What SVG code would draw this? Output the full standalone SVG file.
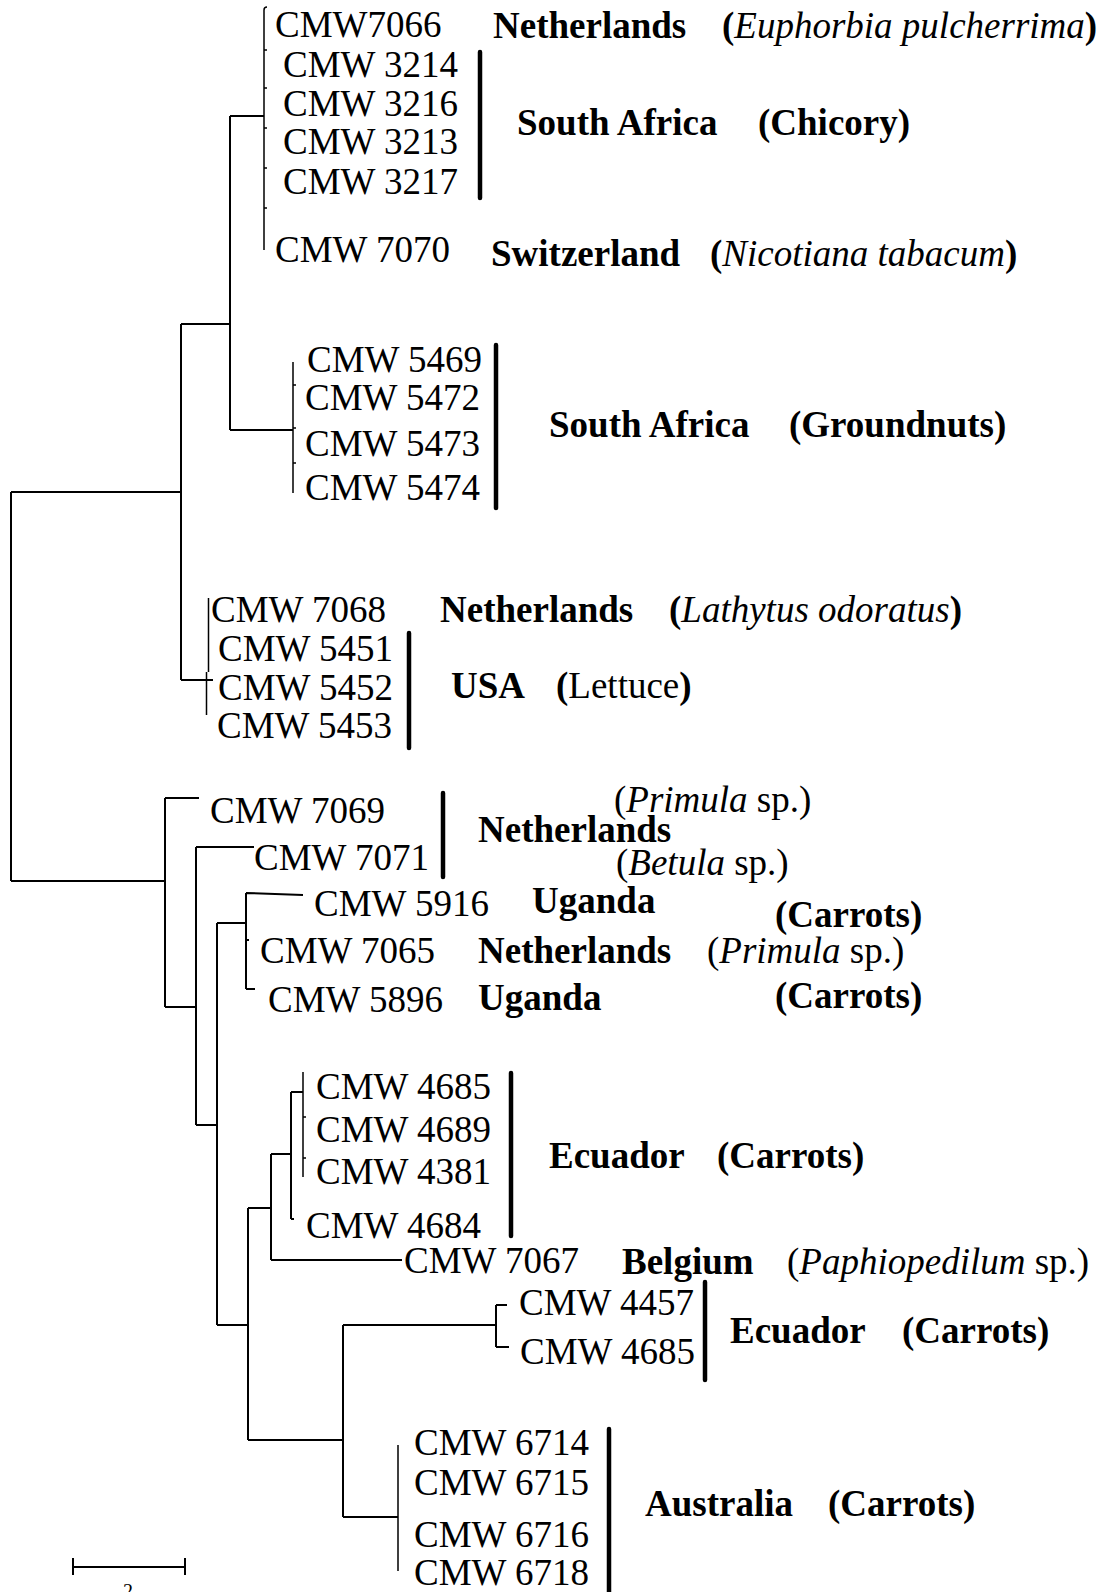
<svg xmlns="http://www.w3.org/2000/svg" width="1104" height="1592" viewBox="0 0 1104 1592">
<style>
text{font-family:"Liberation Serif","Times New Roman",serif;font-size:37px;fill:#000}
.b{font-weight:bold}
.i{font-style:italic}
.tr{stroke:#000;stroke-width:2;fill:none}
.th{stroke:#000;stroke-width:1.5;fill:none}
.br{stroke:#000;stroke-width:4.5;stroke-linecap:round;fill:none}
</style>
<rect width="1104" height="1592" fill="#fff"/>
<g id="connectors">
<path class="tr" d="M11,492V881M11,492H181M11,881H165M181,324V680M181,324H230M181,680H213M230,116V430M230,116H264M230,430H293"/>
<path class="th" d="M264,10V250M264,10q0,-3 3,-3M264,50h3M264,88h3M264,128h3M264,168h3M264,208h3M293,362V493M293,385h3M293,428h3M293,463h3M208.5,598V672M206.5,672V715"/>
<path class="tr" d="M165,798V1007M165,798H199M165,1007H196M196,847V1125M196,847H254M196,1125H217M217,923V1325M217,923H246M246,893V989M246,893L303,895M246,940h3M246,989H255M217,1325H248M248,1208V1440M248,1208H271M271,1154V1260M271,1154H291M271,1260H402M291,1092V1219M291,1219h3M291,1092H303M248,1440H343M343,1325V1517M343,1325H496M496,1305V1347M496,1305H507M496,1347H509M343,1517H398"/>
<path class="th" d="M303,1072V1177M303,1117h3M303,1158h3M398,1445V1571"/>
</g>
<g id="brackets">
<path class="br" d="M480,52V198M496,345V508M409,633V748M443,793V877M511,1073V1236M705,1282V1380M609,1429V1600"/>
</g>
<g id="scale-bar">
<path class="tr" d="M73,1567H185M73,1558V1575M185,1558V1575"/>
<text x="128" y="1598" text-anchor="middle" style="font-size:20px">2</text>
</g>
<g id="leaves">
<g id="leaf-CMW7066"><text x="275" y="37">CMW7066</text></g>
<g id="leaf-CMW3214"><text x="283" y="77">CMW 3214</text></g>
<g id="leaf-CMW3216"><text x="283" y="116">CMW 3216</text></g>
<g id="leaf-CMW3213"><text x="283" y="154">CMW 3213</text></g>
<g id="leaf-CMW3217"><text x="283" y="194">CMW 3217</text></g>
<g id="leaf-CMW7070"><text x="275" y="262">CMW 7070</text></g>
<g id="leaf-CMW5469"><text x="307" y="372">CMW 5469</text></g>
<g id="leaf-CMW5472"><text x="305" y="410">CMW 5472</text></g>
<g id="leaf-CMW5473"><text x="305" y="456">CMW 5473</text></g>
<g id="leaf-CMW5474"><text x="305" y="500">CMW 5474</text></g>
<g id="leaf-CMW7068"><text x="211" y="622">CMW 7068</text></g>
<g id="leaf-CMW5451"><text x="218" y="661">CMW 5451</text></g>
<g id="leaf-CMW5452"><text x="218" y="700">CMW 5452</text></g>
<g id="leaf-CMW5453"><text x="217" y="738">CMW 5453</text></g>
<g id="leaf-CMW7069"><text x="210" y="823">CMW 7069</text></g>
<g id="leaf-CMW7071"><text x="254" y="870">CMW 7071</text></g>
<g id="leaf-CMW5916"><text x="314" y="916">CMW 5916</text></g>
<g id="leaf-CMW7065"><text x="260" y="963">CMW 7065</text></g>
<g id="leaf-CMW5896"><text x="268" y="1012">CMW 5896</text></g>
<g id="leaf-CMW4685a"><text x="316" y="1099">CMW 4685</text></g>
<g id="leaf-CMW4689"><text x="316" y="1142">CMW 4689</text></g>
<g id="leaf-CMW4381"><text x="316" y="1184">CMW 4381</text></g>
<g id="leaf-CMW4684"><text x="306" y="1238">CMW 4684</text></g>
<g id="leaf-CMW7067"><text x="404" y="1273">CMW 7067</text></g>
<g id="leaf-CMW4457"><text x="519" y="1315">CMW 4457</text></g>
<g id="leaf-CMW4685b"><text x="520" y="1364">CMW 4685</text></g>
<g id="leaf-CMW6714"><text x="414" y="1455">CMW 6714</text></g>
<g id="leaf-CMW6715"><text x="414" y="1495">CMW 6715</text></g>
<g id="leaf-CMW6716"><text x="414" y="1547">CMW 6716</text></g>
<g id="leaf-CMW6718"><text x="414" y="1585">CMW 6718</text></g>
</g>
<g id="annotations">
<g id="ann-netherlands-euphorbia"><text class="b" x="493" y="38">Netherlands</text><text x="722" y="38"><tspan class="b">(</tspan><tspan class="i">Euphorbia pulcherrima</tspan><tspan class="b">)</tspan></text></g>
<g id="ann-southafrica-chicory"><text class="b" x="517" y="135">South Africa</text><text class="b" x="758" y="135">(Chicory)</text></g>
<g id="ann-switzerland"><text class="b" x="491" y="266">Switzerland</text><text x="710" y="266"><tspan class="b">(</tspan><tspan class="i">Nicotiana tabacum</tspan><tspan class="b">)</tspan></text></g>
<g id="ann-southafrica-groundnuts"><text class="b" x="549" y="437">South Africa</text><text class="b" x="789" y="437">(Groundnuts)</text></g>
<g id="ann-netherlands-lathytus"><text class="b" x="440" y="622">Netherlands</text><text x="669" y="622"><tspan class="b">(</tspan><tspan class="i">Lathytus odoratus</tspan><tspan class="b">)</tspan></text></g>
<g id="ann-usa"><text class="b" x="451" y="698">USA</text><text x="556" y="698"><tspan class="b">(</tspan>Lettuce<tspan class="b">)</tspan></text></g>
<g id="ann-netherlands-primula-betula"><text x="614" y="812">(<tspan class="i">Primula</tspan> sp.)</text><text class="b" x="478" y="842">Netherlands</text><text x="616" y="875">(<tspan class="i">Betula</tspan> sp.)</text></g>
<g id="ann-uganda-1"><text class="b" x="532" y="913">Uganda</text><text class="b" x="775" y="927">(Carrots)</text></g>
<g id="ann-netherlands-primula"><text class="b" x="478" y="963">Netherlands</text><text x="707" y="963">(<tspan class="i">Primula</tspan> sp.)</text></g>
<g id="ann-uganda-2"><text class="b" x="478" y="1010">Uganda</text><text class="b" x="775" y="1008">(Carrots)</text></g>
<g id="ann-ecuador-1"><text class="b" x="549" y="1168">Ecuador</text><text class="b" x="717" y="1168">(Carrots)</text></g>
<g id="ann-belgium"><text class="b" x="622" y="1274">Belgium</text><text x="787" y="1274">(<tspan class="i">Paphiopedilum</tspan> sp.)</text></g>
<g id="ann-ecuador-2"><text class="b" x="730" y="1343">Ecuador</text><text class="b" x="902" y="1343">(Carrots)</text></g>
<g id="ann-australia"><text class="b" x="645" y="1516">Australia</text><text class="b" x="828" y="1516">(Carrots)</text></g>
</g>
</svg>
